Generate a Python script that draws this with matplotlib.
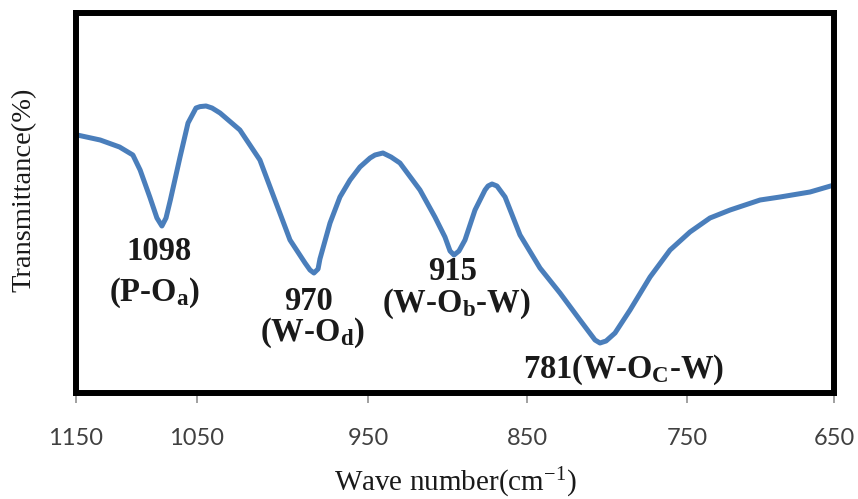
import numpy as np
import matplotlib
matplotlib.use('Agg')
import matplotlib.pyplot as plt

plt.rcParams['mathtext.fontset'] = 'custom'
plt.rcParams['mathtext.rm'] = 'Liberation Serif'
plt.rcParams['mathtext.bf'] = 'Liberation Serif:bold'
plt.rcParams['mathtext.it'] = 'Liberation Serif:italic'

# spectrum (wave number, transmittance in arbitrary units)
wavenumber = [1149, 1130, 1114, 1103, 1097, 1089, 1083.1, 1079, 1075.6, 1072,
              1064, 1057.4, 1050.8, 1048.2, 1044.7, 1041.2, 1036.5, 1024.9,
              1013.2, 1004.4, 995.6, 986.8, 983.9, 981.6, 979.2, 978.1, 972.2,
              966.4, 960.5, 954.7, 948.7, 945.6, 940.6, 935.5, 929.9, 917.3,
              907.9, 901.6, 898.4, 895.9, 892.8, 889, 882.7, 876.4, 874.5, 872,
              868.9, 863.8, 854.4, 841.9, 829.4, 816.9, 807.5, 804.4, 800.6,
              795, 785.6, 773.1, 760.6, 748, 734.4, 720.7, 700.3, 686.7,
              666.3, 650]
transmittance = [64.5, 63.25, 61.5, 59.5, 55.75, 49, 43.75, 41.75, 43.75, 48.25,
                 59, 67.5, 71.25, 71.6, 71.75, 71.25, 70, 65.75,
                 58.25, 48.25, 38.25, 32.5, 30.75, 30, 31, 33.5, 42.5,
                 49, 53.25, 56.5, 58.75, 59.5, 60, 59, 57.5, 50.75,
                 44, 39, 35.5, 34.5, 35.5, 38.25, 45.75, 50.75, 51.75, 52.25,
                 51.75, 49, 39.5, 31.25, 25, 18.25, 13.25, 12.5, 13,
                 15, 20.75, 29, 35.75, 40.25, 43.75, 45.75, 48.25, 49,
                 50.25, 52]

tick_values = [1150, 1050, 950, 850, 750, 650]
tick_labels = ['1150', '1050', '950', '850', '750', '650']
# the printed axis is not evenly spaced; fraction of axis width for each tick
tick_frac = [0.0, 0.1596, 0.3852, 0.5950, 0.8061, 1.0]

peak_labels = ['1098', '(P-O$_{\\mathbf{a}}$)', '970', '(W-O$_{\\mathbf{d}}$)',
               '915', '(W-O$_{\\mathbf{b}}$-W)', '781(W-O$_{\\mathbf{C}}$-W)']
peak_pos = [(1081.4, 35.5), (1085.5, 25), (984.5, 22.75), (982.2, 15),
            (896.5, 30.5), (894.7, 22.25), (789.4, 5.75)]

tv = np.array(tick_values[::-1], dtype=float)     # increasing wave numbers
tg = 1.0 - np.array(tick_frac[::-1])               # increasing with wave number


def fwd(x):
    return np.interp(x, tv, tg)


def inv(g):
    return np.interp(g, tg, tv)


fig = plt.figure(figsize=(8.58, 4.99), dpi=100)
ax = fig.add_axes([76/858, 1-393/499, 758/858, 380/499])
ax.set_xscale('function', functions=(fwd, inv))
ax.set_xlim(1150, 650)
ax.set_ylim(0, 95)

ax.plot(wavenumber, transmittance, color='#4a7ebb', lw=3.6,
        solid_joinstyle='round', solid_capstyle='round')

for s in ax.spines.values():
    s.set_linewidth(4.3)
    s.set_color('black')

ax.set_xticks(tick_values)
ax.set_xticklabels(tick_labels)
ax.xaxis.set_minor_locator(matplotlib.ticker.NullLocator())
ax.tick_params(axis='x', direction='out', length=7, width=1.3, color='#999999',
               labelcolor='#404040', labelsize=17, pad=18)
for t in ax.get_xticklabels():
    t.set_family('Lato')
ax.set_yticks([])

ax.set_xlabel('Wave number(cm$^{-1}$)', fontsize=21, family='Liberation Serif',
              color='#1a1a1a')
ax.xaxis.set_label_coords(0.5, -0.237)
ax.xaxis.label.set_va('center')
ax.set_ylabel('Transmittance(%)', fontsize=20.5, family='Liberation Serif',
              color='#1a1a1a')
ax.yaxis.set_label_coords(-0.0686, 0.534)
ax.yaxis.label.set_va('center')

for lab, (x, y) in zip(peak_labels, peak_pos):
    ax.text(x, y, lab, ha='center', va='center', fontsize=23.5, fontweight='bold',
            family='Liberation Serif', color='#1a1a1a')

plt.savefig('out.png', dpi=100)
